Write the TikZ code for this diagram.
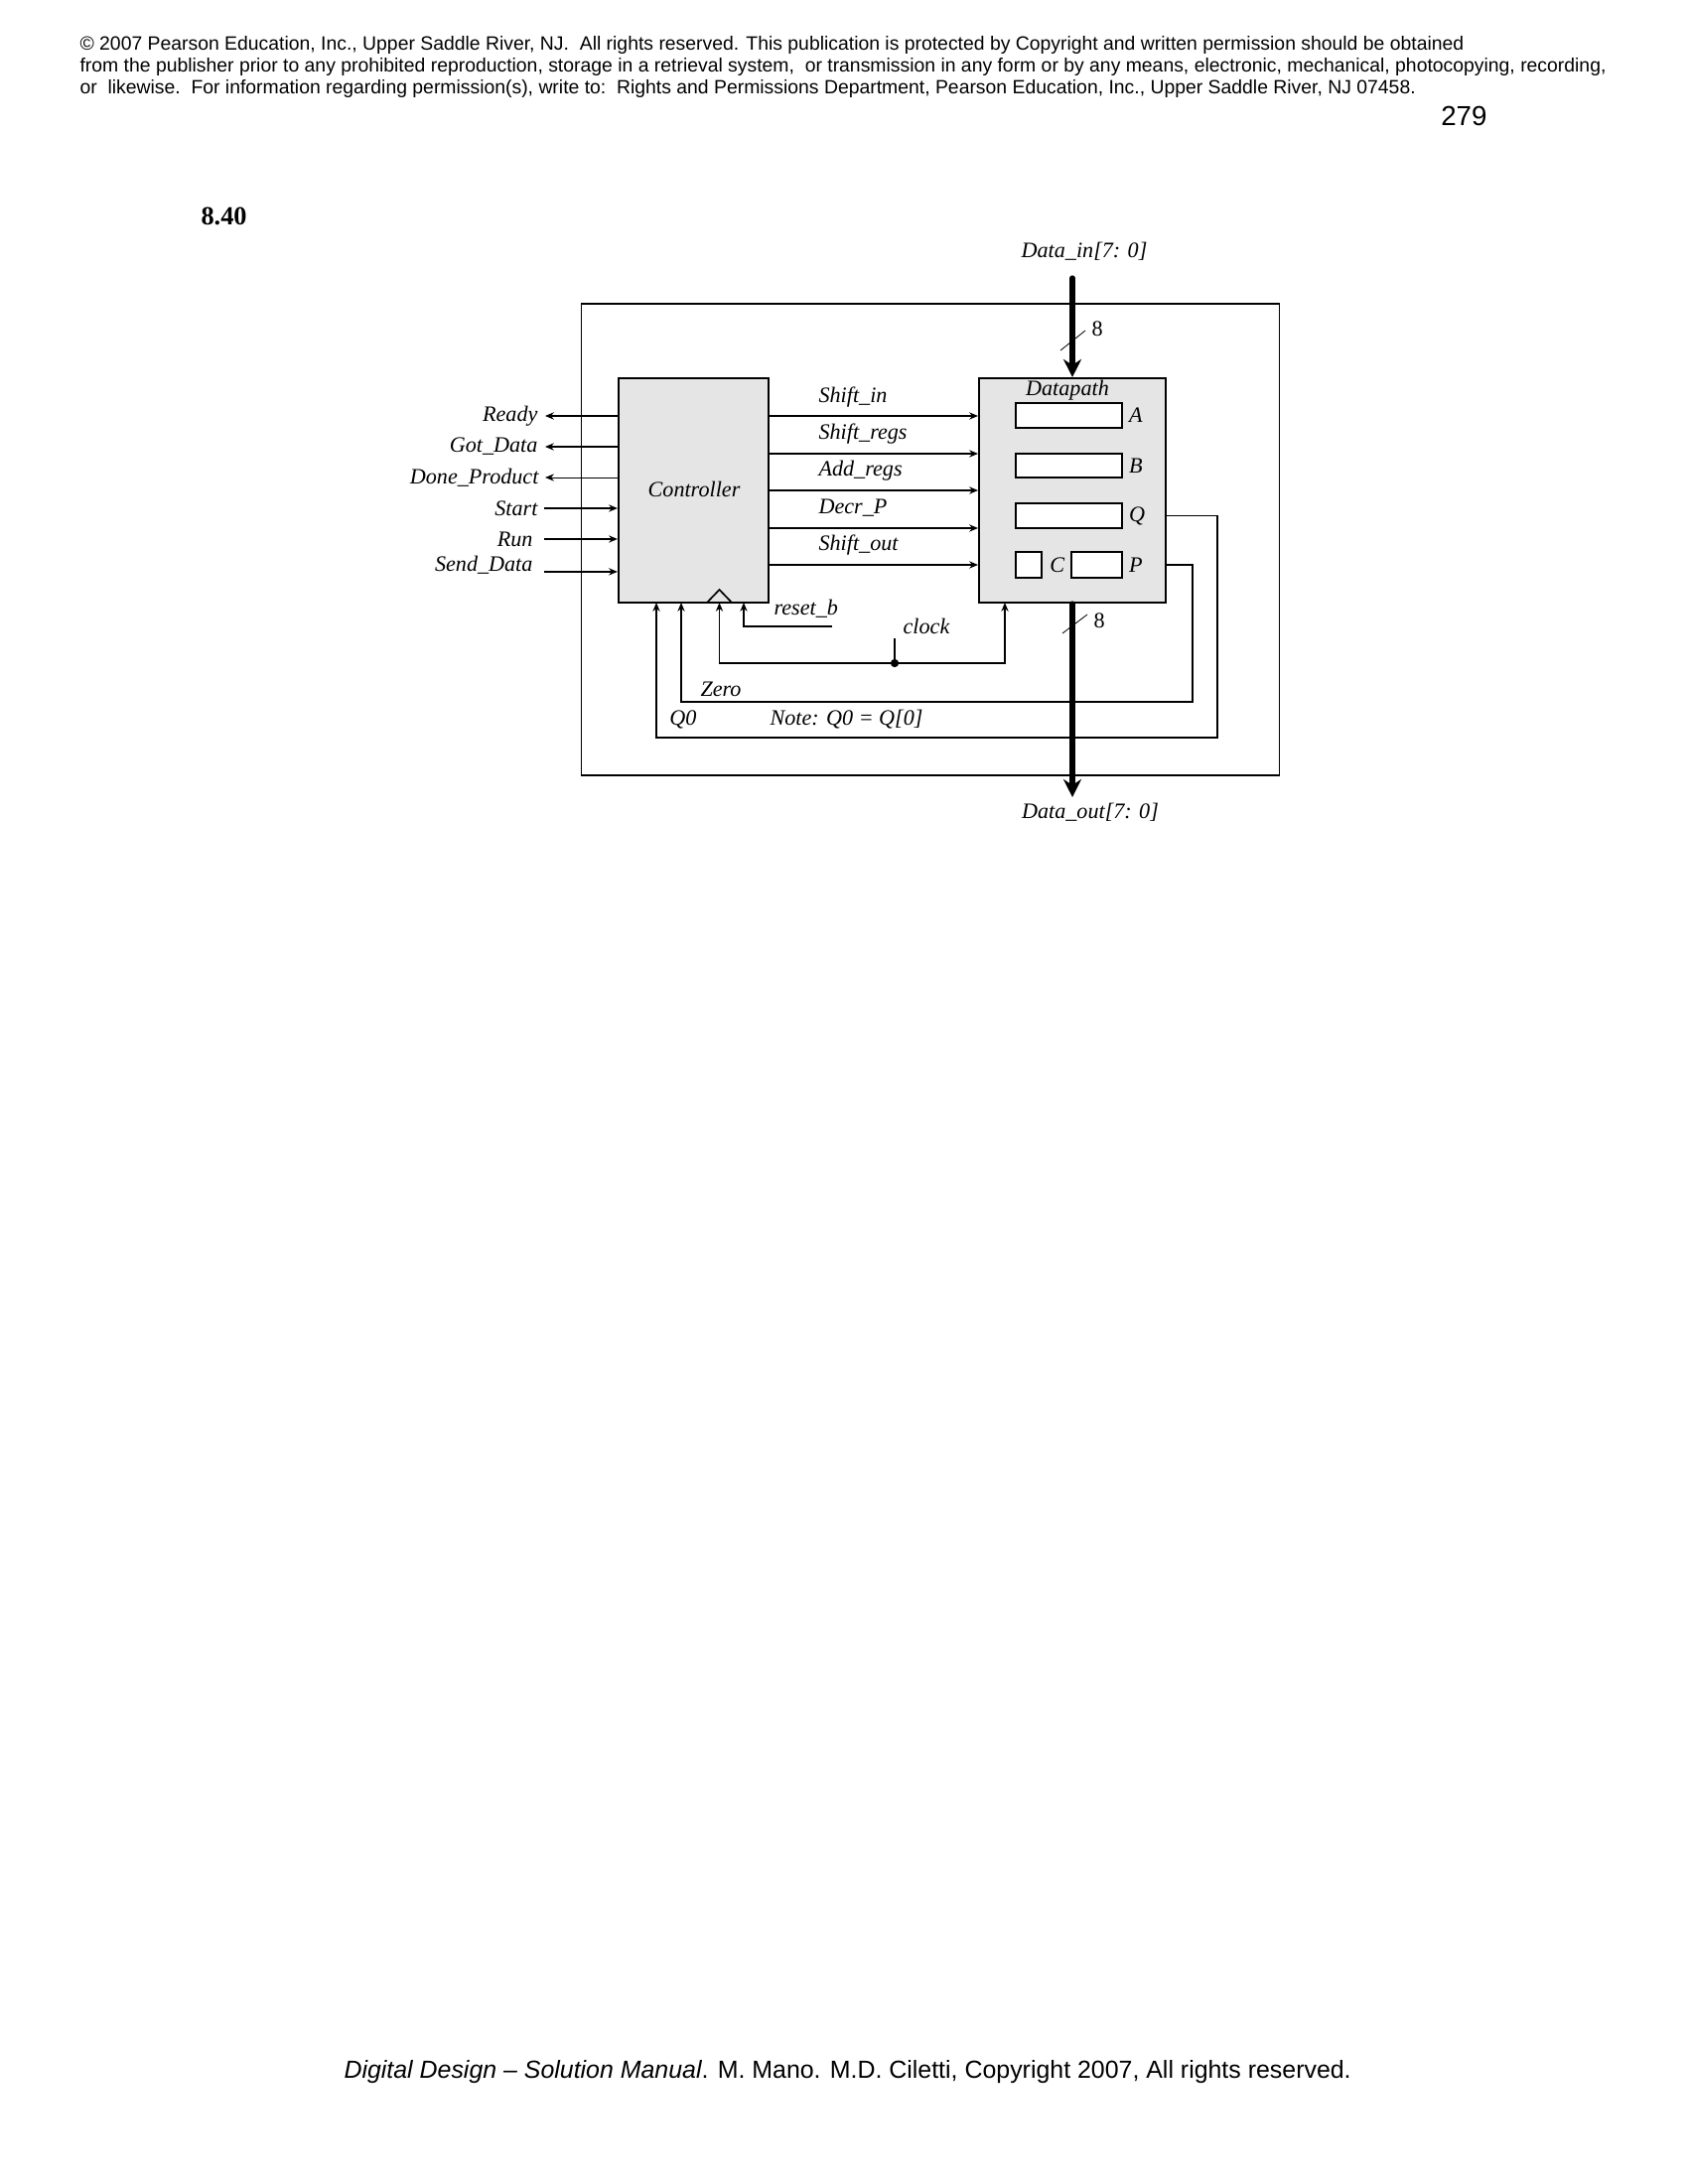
\documentclass[tikz,border=0pt]{standalone}
\usepackage{fontspec}
\setmainfont{Liberation Serif}
\newfontfamily\arialfont{Liberation Sans}
\usetikzlibrary{positioning,arrows.meta}

\begin{document}
\begin{tikzpicture}
	[x=0.0127cm, y=-0.0127cm,
	lbl/.style={inner sep=0pt, font=\fontsize{8}{9.6}\selectfont\itshape},
	num/.style={inner sep=0pt, font=\fontsize{8}{9.6}\selectfont},
	hdr/.style={anchor=base west, inner sep=0pt, font=\arialfont\fontsize{7}{8}\selectfont},
	block/.style={draw, line width=0.7pt, fill=gray!20, inner sep=0pt, minimum height=81.7pt},
	reg/.style={draw, line width=0.7pt, fill=white, inner sep=0pt},
	sig/.style={line width=0.5pt, -{Stealth[length=3.2pt,width=2.6pt]}},
	bus/.style={line width=1.9pt, line cap=round, -{Stealth[length=6.5pt,width=6.5pt]}},
	wire/.style={line width=0.5pt}]
	\path[use as bounding box, fill=white] (0,0) rectangle (1700,2200);
	\node (hdr1) [hdr] at (80,51) {© 2007 Pearson Education, Inc., Upper Saddle River, NJ.\ \ All rights reserved. This publication is protected by Copyright and written permission should be obtained};
	\node (hdr2) [hdr] at (80,73) {from the publisher prior to any prohibited reproduction, storage in a retrieval system,\ \ or transmission in any form or by any means, electronic, mechanical, photocopying, recording,};
	\node (hdr3) [hdr] at (80,95) {or\ \ likewise.\ \ For information regarding permission(s), write to:\ \ Rights and Permissions Department, Pearson Education, Inc., Upper Saddle River, NJ 07458.};
	\node (page) [anchor=base east, inner sep=0pt, font=\arialfont\fontsize{10}{12}\selectfont] at (1498,127) {279};
	\node (prob) [anchor=base west, inner sep=0pt, font=\fontsize{9.5}{11}\selectfont\bfseries] at (202,227) {8.40};
	
	\node (outer) [draw, line width=0.4pt, minimum width=253.7pt, minimum height=171.6pt] at (937,543.5) {};
	\node (ctrl) [block, minimum width=54.6pt] at (698.5,494) {};
	\node (ctrllbl) [lbl] at (699,493) {Controller};
	\node (dp) [block, minimum width=67.9pt] at (1080,494) {};
	\node (dplbl) [lbl, anchor=north] at (1075,383) {Datapath};
	\node (areg) [reg, minimum width=38.7pt, minimum height=9pt] at (1076.5,418.5) {};
	\node (breg) [reg, minimum width=38.7pt, minimum height=9pt] at (1076.5,469) {};
	\node (qreg) [reg, minimum width=38.7pt, minimum height=9pt] at (1076.5,519.5) {};
	\node (creg) [reg, minimum width=9.4pt, minimum height=9.4pt] at (1036,569) {};
	\node (preg) [reg, minimum width=18.4pt, minimum height=9.4pt] at (1104.5,569) {};
	\node (alab) [lbl, right=2pt of areg] {A};
	\node (blab) [lbl, right=2pt of breg] {B};
	\node (qlab) [lbl, right=2pt of qreg] {Q};
	\node (clab) [lbl, right=2.5pt of creg] {C};
	\node (plab) [lbl, right=2pt of preg] {P};
	\draw[line width=0.6pt] (712,607) -- (724.5,594) -- (737,607);
	
	\node (ready) [lbl, anchor=east] at (542,419) {Ready};
	\node (got) [lbl, anchor=east] at (542,450) {Got\_Data};
	\node (done) [lbl, anchor=east] at (543,481) {Done\_Product};
	\node (start) [lbl, anchor=east] at (542,512) {Start};
	\node (run) [lbl, anchor=east] at (537,543) {Run};
	\node (send) [lbl, anchor=east] at (537,569) {Send\_Data};
	\draw[sig, shorten >=2.5pt] (ctrl.west |- ready) -- (ready.east);
	\draw[sig, shorten >=2.5pt] (ctrl.west |- got) -- (got.east);
	\draw[sig, line width=0.3pt, shorten >=2.2pt] (ctrl.west |- done) -- (done.east);
	\draw[sig, shorten <=2.2pt] (start.east) -- (ctrl.west |- start);
	\draw[sig, shorten <=4pt] (run.east) -- (ctrl.west |- run);
	\draw[sig] ([shift={(4pt,-2.5pt)}]send.east) coordinate (sendst) -- (sendst -| ctrl.west);
	
	\node (shin) [lbl, anchor=west] at (824,400) {Shift\_in};
	\node (shregs) [lbl, anchor=west] at (824,437) {Shift\_regs};
	\node (addregs) [lbl, anchor=west] at (824,474) {Add\_regs};
	\node (decr) [lbl, anchor=west] at (824,512) {Decr\_P};
	\node (shout) [lbl, anchor=west] at (824,549) {Shift\_out};
	\draw[sig] (ctrl.east |- 0,419) -- (dp.west |- 0,419);
	\draw[sig] (ctrl.east |- 0,457) -- (dp.west |- 0,457);
	\draw[sig] (ctrl.east |- 0,494) -- (dp.west |- 0,494);
	\draw[sig] (ctrl.east |- 0,532) -- (dp.west |- 0,532);
	\draw[sig] (ctrl.east |- 0,569) -- (dp.west |- 0,569);
	
	\node (din) [lbl] at (1092,253) {Data\_in[7: 0]};
	\coordinate (dintop) at (1080,280);
	\draw[bus] (dintop) -- (dintop |- dp.north);
	\draw[line width=0.3pt] (1068,353) -- (1093,333);
	\node (w1) [num, anchor=west] at (1099,331) {8};
	\coordinate (doutend) at (1080,803);
	\draw[bus] (doutend |- dp.south) -- (doutend);
	\draw[line width=0.3pt] (1070,638) -- (1095,619);
	\node (w2) [num, anchor=west] at (1101,625) {8};
	\node (dout) [lbl] at (1098,818) {Data\_out[7: 0]};
	
	\coordinate (cq0) at (661,607);
	\coordinate (czero) at (686,607);
	\coordinate (cclk) at (724.5,607);
	\coordinate (crst) at (749,607);
	\coordinate (dpclk) at (1012,607);
	\coordinate (clk) at (901,668);
	\coordinate (rst) at (838,631);
	\draw[sig] (dp.east |- qreg) -| (1226,743) -| (cq0);
	\draw[sig] (dp.east |- preg) -| (1201,707) -| (czero);
	\draw[sig] (clk) -| (cclk);
	\draw[sig] (clk) -| (dpclk);
	\draw[wire] (clk) -- ++(0,-25);
	\fill (clk) circle (1.5pt);
	\draw[sig, line width=0.4pt] (rst) -| (crst);
	\node (rstlbl) [lbl, anchor=west] at (779,613) {reset\_b};
	\node (clklbl) [lbl] at (933,631) {clock};
	\node (zerolbl) [lbl] at (726,694) {Zero};
	\node (q0lbl) [lbl] at (688,725) {Q0};
	\node (note) [lbl, anchor=west] at (775,725) {Note: Q0 = Q[0]};
	
	\node (foot) [anchor=base west, inner sep=0pt, font=\arialfont\fontsize{9}{11}\selectfont] at (346,2093) {\textit{Digital Design – Solution Manual}. M. Mano. M.D. Ciletti, Copyright 2007, All rights reserved.};
\end{tikzpicture}
\end{document}
